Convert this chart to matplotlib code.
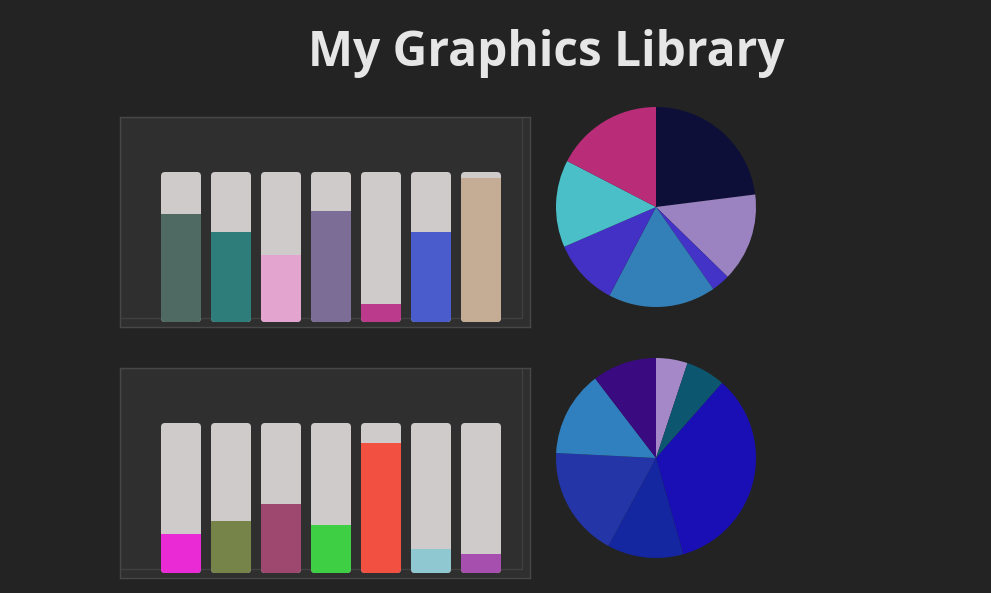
import numpy as np
import matplotlib
matplotlib.use("Agg")
import matplotlib.pyplot as plt
from matplotlib.patches import FancyBboxPatch, Rectangle

plt.rcParams["font.family"] = "Open Sans"

# data
bar_values_top = [0.72, 0.60, 0.45, 0.74, 0.12, 0.60, 0.96]
bar_colors_top = ["#4f6a62", "#2e7d7b", "#e3a5d0", "#7b6d96", "#bb3a8c", "#4a5ccb", "#c4ad94"]
bar_values_bottom = [0.26, 0.35, 0.46, 0.32, 0.87, 0.16, 0.13]
bar_colors_bottom = ["#ea2bd5", "#76844a", "#9e4870", "#3ecf45", "#f25040", "#8fc8d0", "#a74fae"]

pie_values_top = [23.0, 14.3, 3.0, 17.4, 10.8, 14.1, 17.4]
pie_colors_top = ["#0e0f38", "#9b82c0", "#4333c6", "#3380b8", "#4330c4", "#4bbfc8", "#b82c78"]
pie_values_bottom = [5.1, 6.4, 34.1, 12.3, 17.9, 13.8, 10.4]
pie_colors_bottom = ["#a488c8", "#0d5670", "#1a0fb5", "#1426a0", "#2435a8", "#3080bf", "#3a0a80"]

W, H = 991, 593
bg = "#232323"
track = "#d0cbcb"

fig = plt.figure(figsize=(W / 100, H / 100), dpi=100, facecolor=bg)


def px_axes(x0, y0, x1, y1):
    # pixel box (top-left origin) -> figure axes
    return fig.add_axes([x0 / W, (H - y1) / H, (x1 - x0) / W, (y1 - y0) / H])


def bar_panel(top, values, colors):
    ax = px_axes(120, top, 530, top + 210)
    ax.set_facecolor("#2f2f2f")
    for s in ax.spines.values():
        s.set_color("#474747")
        s.set_linewidth(1)
    ax.set_xticks([])
    ax.set_yticks([])
    ax.set_xlim(-1.22, 6.98)
    ax.set_ylim(-0.0333, 1.3667)
    # inner frame line (shares top-left corner with the outer one)
    ax.add_patch(Rectangle((0, 9 / 210), 402 / 410, 201 / 210, transform=ax.transAxes,
                           fill=False, edgecolor="#404040", lw=1))
    x = np.arange(len(values))
    bgs = ax.bar(x, [1] * len(values), width=0.8, color=track)
    fills = ax.bar(x, values, width=0.8, color=colors)
    for b, f in zip(bgs, fills):
        b.set_visible(False)
        rp = FancyBboxPatch((b.get_x(), b.get_y()), b.get_width(), b.get_height(),
                            boxstyle="round,pad=0,rounding_size=0.08",
                            mutation_aspect=1 / 3, facecolor=track, edgecolor="none")
        ax.add_patch(rp)
        f.set_zorder(3)
        f.set_clip_path(rp)
    return ax


def pie_panel(cy, values, colors):
    ax = px_axes(556, cy - 100, 756, cy + 100)
    ax.pie(values, colors=colors, startangle=90, counterclock=False, radius=1,
           wedgeprops=dict(linewidth=0))
    ax.set_xlim(-1, 1)
    ax.set_ylim(-1, 1)
    ax.set_aspect("equal")
    ax.axis("off")
    return ax


bar_panel(117, bar_values_top, bar_colors_top)
bar_panel(368, bar_values_bottom, bar_colors_bottom)
pie_panel(207, pie_values_top, pie_colors_top)
pie_panel(458, pie_values_bottom, pie_colors_bottom)

fig.text(546 / W, 1 - 66 / H, "My Graphics Library", ha="center", va="baseline",
         fontsize=34.5, fontweight="bold", color="#e6e6e6")

fig.savefig("out.png", dpi=100, facecolor=bg)
